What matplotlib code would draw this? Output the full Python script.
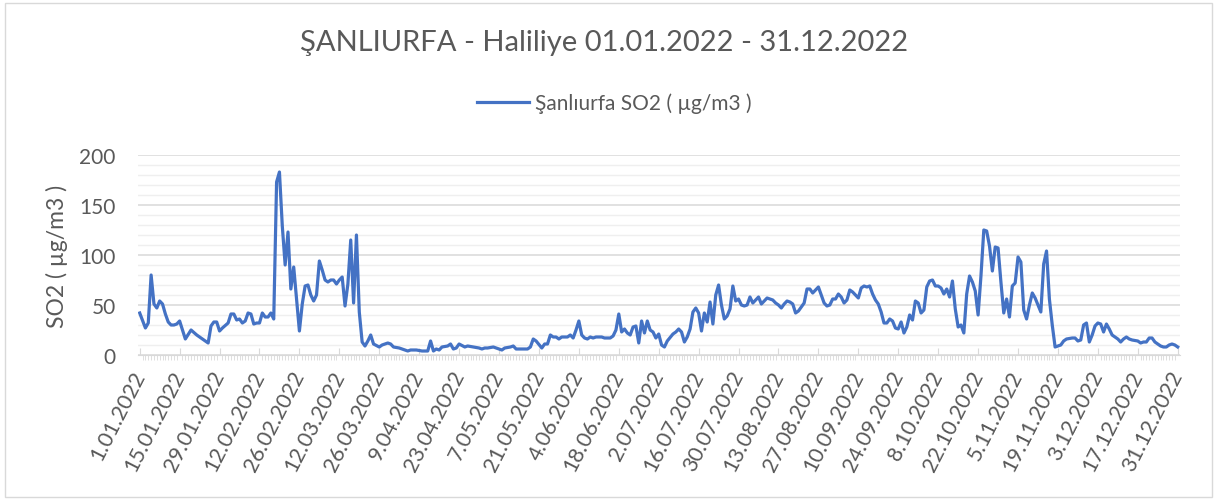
import numpy as np
import pandas as pd
import matplotlib
matplotlib.use("Agg")
import matplotlib.pyplot as plt
from matplotlib.patches import Rectangle

plt.rcParams['font.family'] = ['Lato', 'DejaVu Sans']

# day of year (0 = 1.01.2022) and SO2 values
days = [0, 2, 3, 4, 5, 6, 7, 8, 9, 10, 11, 12, 13, 14, 15, 16, 18, 20, 24, 25, 26, 27, 28, 29,
        31, 32, 33, 34, 35, 36, 37, 38, 39, 40, 41, 42, 43, 44, 45, 46, 47, 48, 49, 50,
        51, 52, 53, 54, 55, 56, 57, 58, 59, 60, 61, 62, 63, 64, 65, 66, 67, 68, 69, 70,
        71, 72, 73, 74, 75, 76, 77, 78, 79, 80, 81, 82, 84, 85, 87, 88, 89, 91, 92, 94,
        95, 97, 99, 101, 102, 103, 104, 105, 106, 108, 109, 110, 111, 112, 114, 115, 117, 119,
        120, 121, 122, 124, 125, 127, 128, 130, 131, 132, 134, 136, 137, 138, 139, 141, 142, 143,
        144, 145, 146, 147, 148, 149, 150, 151, 152, 153, 154, 155, 156, 157, 158, 159, 160, 162,
        163, 164, 165, 166, 167, 168, 169, 170, 171, 172, 173, 174, 175, 176, 177, 178, 179, 180,
        181, 182, 183, 184, 185, 187, 188, 189, 190, 191, 192, 193, 194, 195, 196, 197, 198, 199,
        200, 201, 202, 203, 204, 205, 206, 207, 208, 209, 210, 211, 212, 213, 214, 215, 216, 217,
        218, 219, 220, 222, 223, 224, 225, 226, 227, 228, 229, 230, 231, 232, 233, 234, 235, 236,
        237, 238, 239, 240, 241, 242, 243, 244, 245, 246, 247, 248, 249, 250, 251, 252, 253, 254,
        255, 256, 257, 258, 259, 260, 261, 262, 263, 264, 265, 266, 267, 268, 269, 270, 271, 272,
        273, 274, 275, 276, 277, 278, 279, 280, 281, 282, 283, 284, 285, 286, 287, 288, 289, 290,
        291, 292, 293, 294, 295, 296, 297, 298, 299, 300, 301, 302, 303, 304, 305, 306, 307, 308,
        309, 310, 311, 312, 313, 314, 315, 316, 317, 318, 319, 320, 321, 322, 323, 324, 325, 327,
        328, 329, 330, 331, 332, 333, 334, 335, 336, 337, 338, 339, 340, 341, 342, 343, 344, 345,
        346, 347, 348, 350, 351, 352, 353, 354, 355, 356, 357, 358, 359, 360, 361, 362, 363, 364]

so2 = [42, 27, 32, 80, 51, 47, 54, 51, 41, 33, 30, 30, 31, 34, 25, 16, 25, 20, 12, 29, 33, 33, 24, 27,
       32, 41, 41, 35, 36, 32, 34, 42, 41, 31, 32, 32, 42, 38, 38, 42, 36, 173, 183, 129,
       90, 123, 66, 88, 56, 24, 51, 69, 70, 60, 54, 60, 94, 85, 75, 73, 75, 75, 71, 75,
       78, 49, 71, 115, 52, 120, 43, 13, 9, 14, 20, 11, 8, 10, 12, 11, 8, 7, 6, 4,
       5, 5, 4, 4, 14, 4, 6, 5, 8, 9, 11, 6, 7, 11, 8, 9, 8, 7,
       6, 7, 7, 8, 7, 5, 7, 8, 9, 6, 6, 6, 8, 16, 14, 7, 11, 11,
       20, 18, 18, 16, 18, 18, 18, 20, 17, 25, 34, 20, 17, 16, 18, 17, 18, 18,
       17, 17, 17, 19, 25, 41, 23, 26, 22, 20, 28, 29, 12, 34, 22, 34, 25, 23,
       17, 21, 10, 8, 14, 21, 23, 26, 23, 13, 18, 26, 43, 47, 42, 24, 42, 33,
       53, 31, 60, 70, 50, 36, 39, 46, 69, 54, 56, 50, 49, 50, 58, 52, 55, 58,
       51, 54, 57, 55, 52, 50, 47, 51, 54, 53, 51, 42, 44, 48, 52, 66, 66, 62,
       65, 68, 60, 52, 49, 50, 56, 56, 61, 58, 52, 55, 65, 63, 60, 57, 67, 69,
       68, 69, 61, 55, 51, 43, 32, 32, 36, 34, 27, 26, 33, 22, 28, 40, 35, 54,
       52, 42, 45, 68, 74, 75, 69, 69, 67, 61, 66, 58, 74, 46, 28, 30, 22, 61,
       79, 73, 64, 40, 79, 125, 124, 109, 84, 108, 107, 73, 42, 56, 38, 69, 72, 98,
       93, 45, 36, 50, 62, 57, 50, 43, 91, 104, 56, 30, 8, 9, 10, 14, 16, 17,
       17, 14, 15, 30, 32, 13, 20, 29, 32, 31, 23, 31, 26, 20, 18, 16, 13, 16,
       18, 16, 15, 14, 12, 13, 13, 17, 17, 13, 11, 9, 8, 8, 10, 11, 10, 8]

tick_days = list(range(0, 351, 14)) + [364]
start = pd.Timestamp("2022-01-01")
tick_labels = []
for d in tick_days:
    t = start + pd.Timedelta(days=d)
    tick_labels.append(f"{t.day}.{t.month:02d}.{t.year}")

grey = "#595959"

fig = plt.figure(figsize=(12.17, 5.02), dpi=100)
ax = fig.add_axes([138 / 1217, 1 - 356 / 502, (1180 - 138) / 1217, 200 / 502])

ax.plot(days, so2, color="#4472C4", lw=2.3, solid_joinstyle="round",
        label="Şanlıurfa SO2 ( µg/m3 )")

ax.set_ylim(0, 200)
ax.set_xlim(-0.6, 364.8)
ax.set_yticks([0, 50, 100, 150, 200])
ax.set_yticks(range(0, 201, 10), minor=True)
ax.grid(axis="y", which="major", color="#d9d9d9", lw=1.1)
ax.grid(axis="y", which="minor", color="#efefef", lw=1.0)
ax.set_axisbelow(True)

ax.set_xticks(tick_days)
ax.set_xticks(range(0, 365), minor=True)
ax.set_xticklabels(tick_labels, rotation=63, ha="right", va="center",
                   rotation_mode="anchor", fontsize=15.5, color=grey)
ax.tick_params(axis="x", which="major", direction="in", length=5, color="#d9d9d9", pad=12)
ax.tick_params(axis="x", which="minor", direction="out", length=3.5, color="#d9d9d9")
ax.tick_params(axis="y", which="both", length=0, labelsize=15, labelcolor=grey, pad=16)

for s in ["top", "right", "left"]:
    ax.spines[s].set_visible(False)
ax.spines["bottom"].set_color("#d9d9d9")

ax.set_ylabel("SO2 ( µg/m3 )", fontsize=16.5, color=grey, labelpad=8)

fig.text(0.496, 1 - 43 / 502, "ŞANLIURFA - Haliliye 01.01.2022 - 31.12.2022",
         ha="center", va="center", fontsize=21, color=grey)

fig.legend(loc="center", bbox_to_anchor=(0.505, 1 - 104 / 502), frameon=False,
           fontsize=15, labelcolor=grey, handlelength=2.5, handletextpad=0.3)

fig.patches.append(Rectangle((5 / 1217, 4 / 502), 1207 / 1217, 494 / 502,
                             transform=fig.transFigure, fill=False,
                             edgecolor="#d9d9d9", lw=1))

fig.savefig("out.png", dpi=100)
